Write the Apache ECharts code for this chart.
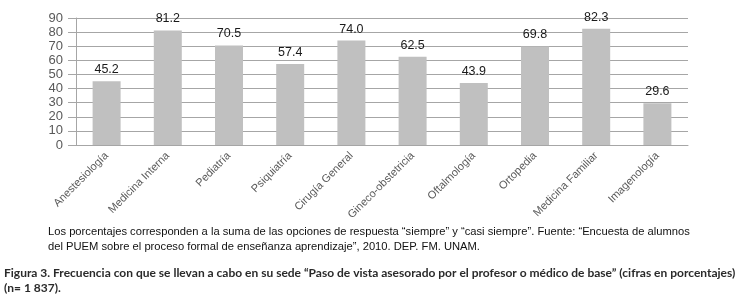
<!DOCTYPE html>
<html>
<head>
<meta charset="utf-8">
<script src="https://cdn.jsdelivr.net/npm/echarts@6/dist/echarts.min.js"></script>
<style>
  html, body { margin: 0; padding: 0; background: #fff; }
  #chart { width: 743px; height: 298px; }
</style>
</head>
<body>
<div id="chart"></div>
<script>
const categories = ["Anestesiología", "Medicina Interna", "Pediatría", "Psiquiatría", "Cirugía General",
  "Gineco-obstetricia", "Oftalmología", "Ortopedia", "Medicina Familiar", "Imagenología"];
const values = [45.2, 81.2, 70.5, 57.4, 74.0, 62.5, 43.9, 69.8, 82.3, 29.6];
const yTicks = [0, 10, 20, 30, 40, 50, 60, 70, 80, 90];

const noteLines = [
  "Los porcentajes corresponden a la suma de las opciones de respuesta “siempre” y “casi siempre”. Fuente: “Encuesta de alumnos",
  "del PUEM sobre el proceso formal de enseñanza aprendizaje”, 2010. DEP. FM. UNAM."
];
const captionLines = [
  "Figura 3. Frecuencia con que se llevan a cabo en su sede “Paso de vista asesorado por el profesor o médico de base” (cifras en porcentajes)",
  "(n= 1 837)."
];

const sans = "'Liberation Sans', Arial, sans-serif";
const chart = echarts.init(document.getElementById("chart"));

const option = {
  animation: false,
  grid: { left: 76, right: 55, top: 18, bottom: 153 },
  xAxis: {
    type: "category",
    data: categories,
    axisLine: { lineStyle: { color: "#a6a6a6" } },
    axisTick: { length: 5, lineStyle: { color: "#a6a6a6" } },
    axisLabel: {
      rotate: 45,
      interval: 0,
      margin: 9,
      color: "#595959",
      fontSize: 11,
      fontFamily: sans
    }
  },
  yAxis: {
    type: "value",
    min: yTicks[0],
    max: yTicks[yTicks.length - 1],
    interval: 10,
    axisLine: { show: true, lineStyle: { color: "#a6a6a6" } },
    axisTick: { show: true, length: 8, lineStyle: { color: "#a6a6a6" } },
    splitLine: { lineStyle: { color: "#a6a6a6" } },
    axisLabel: {
      color: "#595959", fontSize: 13, fontFamily: sans, margin: 13,
      showMinLabel: true, showMaxLabel: true, hideOverlap: false, lineHeight: 12
    }
  },
  series: [
    {
      type: "bar",
      data: values,
      barWidth: 28,
      itemStyle: { color: "#c0c0c0" },
      label: {
        show: true,
        position: "top",
        distance: 5,
        color: "#1a1a1a",
        fontSize: 12.5,
        fontFamily: sans,
        formatter: (p) => p.value.toFixed(1)
      }
    }
  ],
  graphic: [
    {
      type: "text", left: 48, top: 224,
      style: { text: noteLines.join("\n"), fill: "#111", font: "11.2px 'Liberation Sans', Arial, sans-serif", lineHeight: 15 }
    },
    {
      type: "text", left: 4, top: 266,
      style: { text: captionLines.join("\n"), fill: "#2a2a2a", font: "bold 12px Lato, sans-serif", lineHeight: 15 }
    }
  ]
};
chart.setOption(option);
</script>
</body>
</html>
